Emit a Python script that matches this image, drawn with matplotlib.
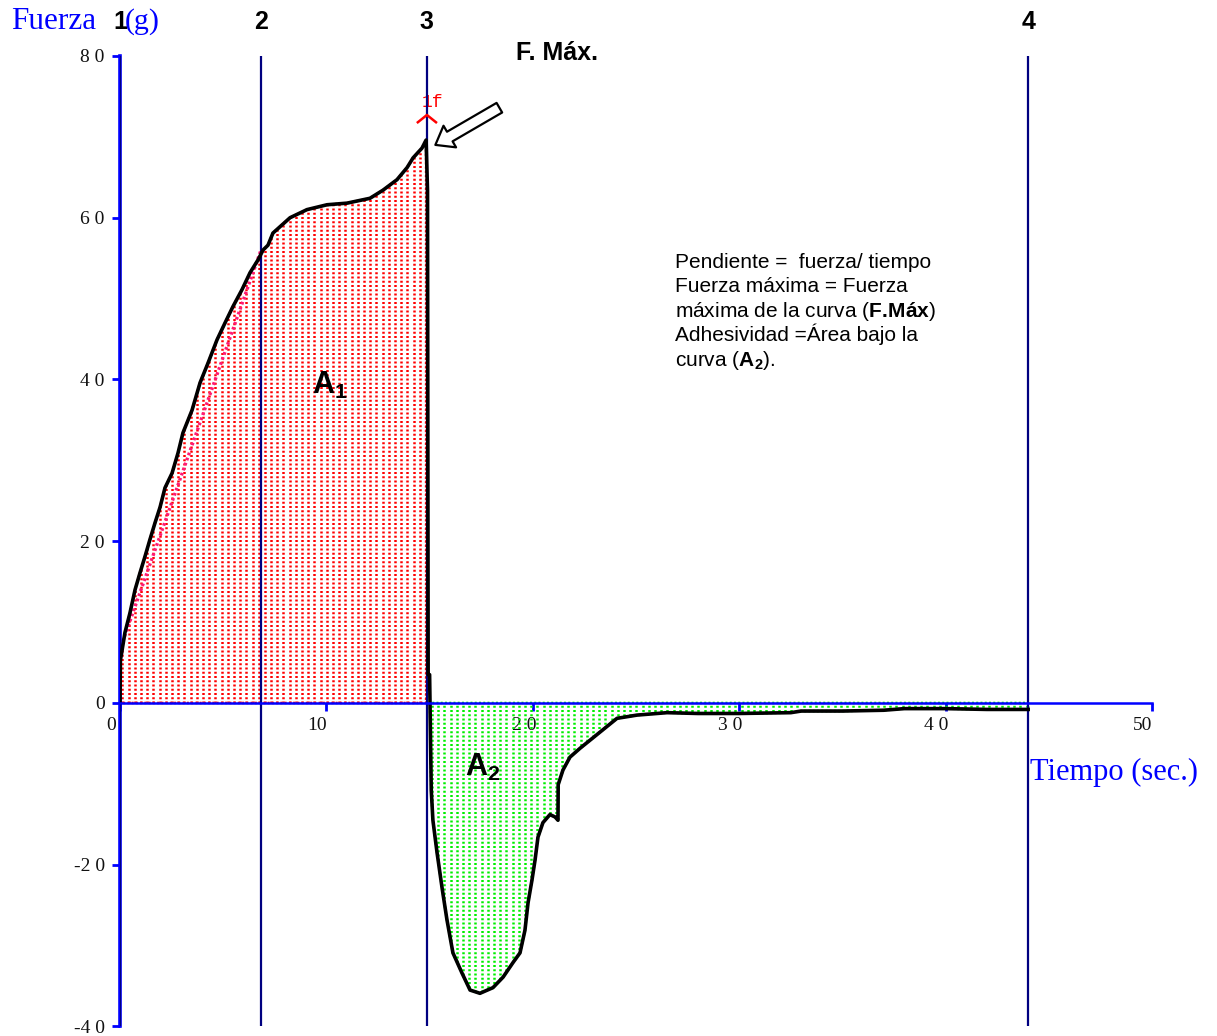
import matplotlib
matplotlib.use('Agg')
import matplotlib.pyplot as plt
import numpy as np
from matplotlib.transforms import ScaledTranslation, blended_transform_factory

plt.rcParams['font.family'] = ['Liberation Serif', 'DejaVu Serif']
plt.rcParams['mathtext.fontset'] = 'custom'
plt.rcParams['mathtext.rm'] = 'Liberation Sans'
plt.rcParams['mathtext.bf'] = 'Liberation Sans:bold'

# ---------------------------------------------------------------
# Data (tiempo in s, fuerza in g)
# ---------------------------------------------------------------
tiempo = [0.0, 0.02, 0.08, 0.24, 0.48, 0.73, 0.97, 1.21, 1.45, 1.70, 1.94,
          2.18, 2.52, 2.81, 3.05, 3.49, 3.88, 4.26, 4.70, 5.09, 5.47, 5.91,
          6.30, 6.69, 6.93, 7.17, 7.41, 8.24, 9.06, 10.03, 11.0, 12.11, 12.74,
          13.42, 13.91, 14.20, 14.63, 14.83,
          14.90, 14.93, 15.0, 15.02, 15.08, 15.16, 15.36, 15.60, 15.84, 16.13,
          16.57, 16.96, 17.44, 18.07, 18.56, 19.04, 19.38, 19.62, 19.77,
          19.96, 20.11, 20.25, 20.49, 20.83, 21.08, 21.22, 21.23, 21.46,
          21.80, 22.29, 22.92, 23.50, 24.08, 25.05, 26.50, 28.0, 30.0, 32.5,
          33.0, 35.0, 37.0, 38.0, 40.0, 42.0, 44.0]
fuerza = [0.0, 5.3, 6.2, 8.7, 11.1, 14.0, 16.1, 18.1, 20.2, 22.3, 24.2,
          26.6, 28.4, 30.9, 33.4, 36.2, 39.6, 42.0, 44.9, 47.0, 49.0, 51.1,
          53.2, 54.8, 56.0, 56.6, 58.1, 60.0, 61.0, 61.6, 61.8, 62.4, 63.4,
          64.7, 66.2, 67.4, 68.6, 69.6,
          63.3, 3.5, 3.5, 0.0, -10.8, -14.5, -18.5, -22.8, -26.8, -30.9,
          -33.4, -35.5, -35.9, -35.2, -33.9, -32.1, -30.9, -28.1, -24.7,
          -21.9, -19.4, -16.6, -14.8, -13.8, -14.1, -14.5, -10.1, -8.3,
          -6.7, -5.6, -4.3, -3.1, -1.9, -1.5, -1.2, -1.3, -1.3, -1.2,
          -1.0, -1.0, -0.9, -0.7, -0.7, -0.8, -0.8]

# slope line (pendiente)
pend_t = [0.05, 6.83]
pend_f = [7.0, 56.0]

# vertical reference lines
marcas = [0.0, 6.83, 14.87, 44.0]
marcas_lbl = ['1', '2', '3', '4']

x_ticks = [0, 10, 20, 30, 40, 50]
x_labels = ['0', '10', '2 0', '3 0', '4 0', '50']
y_ticks = [-40, -20, 0, 20, 40, 60, 80]
y_labels = ['-4 0', '-2 0', '0', '2 0', '4 0', '6 0', '8 0']

t = np.array(tiempo)
f = np.array(fuerza)
i_pk = int(np.argmax(f))
t_pk, f_pk = t[i_pk], f[i_pk]
t_cero = 15.02  # force comes back to zero after the break

fig = plt.figure(figsize=(12.17, 10.36), dpi=100)
fig.patch.set_facecolor('white')
ax = fig.add_axes([0.0986, 0.0092, 0.848, 0.9368])
ax.set_xlim(0, 50)
ax.set_ylim(-40, 80)

BLUE = '#0000FF'
NAVY = '#000080'
RED = '#FF0000'
GREEN = '#00EE00'

# ---------------------------------------------------------------
# dotted fills (A1 red, A2 green)
# ---------------------------------------------------------------
def dotted_fill(mask, color):
    pc = ax.fill_between(t, f, 0, where=mask, facecolor='none',
                         edgecolor=color, linewidth=1.8,
                         linestyle=(0, (0.8, 0.9)), zorder=2)
    cols = np.arange(0.12, 50, 0.3)
    vl = ax.vlines(cols, -40, 80, colors=color, linewidth=1.8,
                   linestyles=[(0, (0.8, 0.9))], zorder=2)
    vl.set_clip_path(pc.get_paths()[0], ax.transData)

dotted_fill(t <= t_pk, RED)
dotted_fill(t >= t_cero, GREEN)

# slope line
ax.plot(pend_t, pend_f, color='#FF1A75', lw=2.4, ls=(0, (0.8, 0.8)),
        zorder=3)

# vertical reference lines
for m in marcas:
    ax.axvline(m, color=NAVY, lw=1.6, zorder=4)

# the force curve
ax.plot(t, f, color='black', lw=2.6, zorder=5)

# ---------------------------------------------------------------
# axes styling
# ---------------------------------------------------------------
for s in ['top', 'right']:
    ax.spines[s].set_visible(False)
ax.spines['bottom'].set_position(('data', 0))
ax.spines['bottom'].set_color(BLUE)
ax.spines['bottom'].set_linewidth(1.8)
ax.spines['left'].set_color(BLUE)
ax.spines['left'].set_linewidth(2.6)
ax.spines['bottom'].set_zorder(6)
ax.spines['left'].set_zorder(3)

ax.set_xticks(x_ticks)
ax.set_xticklabels(x_labels)
ax.set_yticks(y_ticks)
ax.set_yticklabels(y_labels)
ax.tick_params(axis='both', direction='out', length=6, width=2,
               color=BLUE, labelsize=14, labelcolor='#111111')
ax.tick_params(axis='x', pad=4)
ax.tick_params(axis='y', pad=5)

off = ScaledTranslation(-9 / 100, 0, fig.dpi_scale_trans)
for lab in ax.get_xticklabels():
    lab.set_transform(lab.get_transform() + off)

# ---------------------------------------------------------------
# texts
# ---------------------------------------------------------------
top_tr = blended_transform_factory(ax.transData, fig.transFigure)
for m, lbl in zip(marcas, marcas_lbl):
    ax.text(m, 0.979, lbl, transform=top_tr, ha='center', va='center',
            fontsize=18, fontweight='bold', family='Liberation Sans',
            color='black', clip_on=False)

fig.text(0.0095, 0.979, 'Fuerza', ha='left', va='center', fontsize=22.5,
         color=BLUE, family='Liberation Serif')
fig.text(0.1025, 0.979, '(g)', ha='left', va='center', fontsize=21.5,
         color=BLUE, family='Liberation Serif')

ax.text(21.17, 0.949, 'F. Máx.', transform=top_tr, ha='center',
        va='center', fontsize=18, fontweight='bold',
        family='Liberation Sans', clip_on=False)

ax.text(44.1, -8.6, 'Tiempo (sec.)', ha='left', va='center', fontsize=22,
        color=BLUE, family='Liberation Serif', clip_on=False)

ax.text(10.17, 39.3, r'$\mathbf{A}_\mathbf{1}$', ha='center', va='center',
        fontsize=22, zorder=7)
ax.text(17.59, -8.0, r'$\mathbf{A}_\mathbf{2}$', ha='center', va='center',
        fontsize=22, zorder=7)

info = ['Pendiente =  fuerza/ tiempo',
        'Fuerza máxima = Fuerza',
        r'máxima de la curva ($\mathbf{F.\!Máx}$)',
        'Adhesividad =Área bajo la',
        r'curva ($\mathbf{A}_\mathbf{2}$).']
for k, line in enumerate(info):
    ax.text(26.9, 53.8 - 3.03 * k, line, ha='left', va='baseline',
            fontsize=15, family='Liberation Sans', color='black')

# peak marker "1f" with chevron
ax.text(t_pk + 0.3, f_pk + 4.7, '1f', ha='center', va='center',
        fontsize=13, color=RED, family='Liberation Mono')
ax.plot([t_pk - 0.4, t_pk + 0.04, t_pk + 0.48],
        [f_pk + 2.2, f_pk + 3.1, f_pk + 2.2], color=RED, lw=1.8,
        zorder=6, clip_on=False)

# hollow arrow pointing to the maximum
ax.annotate('', xy=(t_pk + 0.45, f_pk - 0.6),
            xytext=(t_pk + 3.55, f_pk + 4.0),
            arrowprops=dict(arrowstyle='simple,head_length=1.2,'
                                       'head_width=1.8,tail_width=0.8',
                            fc='white', ec='black', lw=1.6,
                            mutation_scale=10, shrinkA=0, shrinkB=0),
            zorder=8)

fig.savefig('out.png', dpi=100, facecolor='white')
